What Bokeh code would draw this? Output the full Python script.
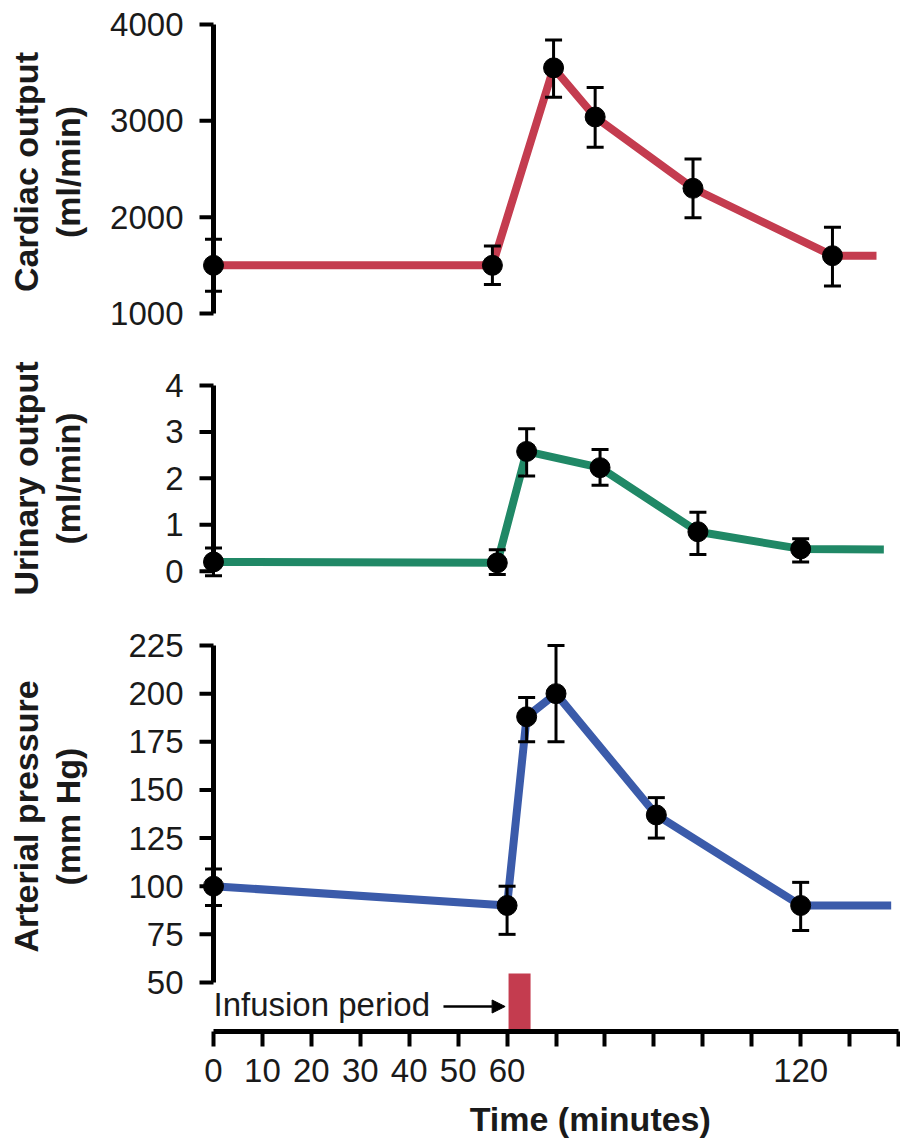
from bokeh.plotting import figure
from bokeh.layouts import column
from bokeh.models import (Range1d, FixedTicker, Whisker, TeeHead, ColumnDataSource,
                          Label, Arrow, NormalHead)
from bokeh.embed import file_html
from bokeh.resources import INLINE

# ---------------- data ----------------
time_ticks = [0, 10, 20, 30, 40, 50, 60, 70, 80, 90, 100, 110, 120, 130, 140]
time_tick_labels = ["0", "10", "20", "30", "40", "50", "60", "", "", "", "", "", "120", "", ""]

co_ticks = [1000, 2000, 3000, 4000]
co_time = [0, 57, 69.5, 78, 98, 126.5]
co_mean = [1500, 1500, 3550, 3040, 2300, 1600]
co_lower = [1230, 1300, 3245, 2725, 1995, 1285]
co_upper = [1770, 1700, 3840, 3345, 2605, 1895]
co_end_time = 135.5
co_end_value = 1600

uo_ticks = [0, 1, 2, 3, 4]
uo_time = [0, 58, 64, 79, 99, 120]
uo_mean = [0.2, 0.18, 2.58, 2.23, 0.85, 0.48]
uo_lower = [-0.1, -0.07, 2.05, 1.85, 0.36, 0.2]
uo_upper = [0.5, 0.46, 3.07, 2.62, 1.27, 0.7]
uo_end_time = 137
uo_end_value = 0.47

ap_ticks = [50, 75, 100, 125, 150, 175, 200, 225]
ap_time = [0, 60, 64, 70, 90.5, 120]
ap_mean = [100, 90, 188, 200, 137, 90]
ap_lower = [90, 75, 175, 175, 125, 77]
ap_upper = [109, 100, 198, 225, 146, 102]
ap_end_time = 138.5
ap_end_value = 90

infusion_start = 60.3
infusion_end = 64.8

# ---------------- style / layout constants ----------------
FONT = "Liberation Sans"
RED = "#C43C4F"
GREEN = "#208866"
BLUE = "#3B5BAA"
TXT = "#1a1a1a"
W = 900
LEFT = 193                # frame left edge (px)
AXIS_X = 213              # pixel position of time 0
PX_PER_MIN = 4.893
X0 = -(AXIS_X - LEFT) / PX_PER_MIN
X1 = X0 + (W - LEFT) / PX_PER_MIN
TICK_LEN = 14 / PX_PER_MIN

x_range = Range1d(X0, X1)


def make_panel(fig_top, height, frame_top, frame_bottom, lo, hi, lo_px, hi_px):
    """Figure whose frame spans [frame_top, frame_bottom] (page px) and where
    value lo sits at lo_px and value hi at hi_px."""
    upp = (hi - lo) / (lo_px - hi_px)
    y0 = lo - (frame_bottom - lo_px) * upp
    y1 = hi + (hi_px - frame_top) * upp
    p = figure(width=W, height=height, x_range=x_range, y_range=Range1d(y0, y1),
               output_backend="svg", toolbar_location=None, title=None,
               min_border_left=LEFT, min_border_right=0,
               min_border_top=frame_top - fig_top,
               min_border_bottom=fig_top + height - frame_bottom)
    p.grid.visible = False
    p.outline_line_color = None
    p.background_fill_color = "white"
    p.border_fill_color = "white"
    return p, upp


def style_yaxis(p, ticks, label, title_standoff):
    ax = p.yaxis[0]
    ax.ticker = FixedTicker(ticks=ticks)
    ax.axis_line_color = None
    ax.major_tick_line_color = None
    ax.major_tick_out = 0
    ax.major_tick_in = 0
    ax.minor_tick_line_color = None
    ax.major_label_text_font = FONT
    ax.major_label_text_font_size = "33px"
    ax.major_label_text_color = TXT
    ax.major_label_standoff = 10
    ax.axis_label = label
    ax.axis_label_text_font = FONT
    ax.axis_label_text_font_style = "bold"
    ax.axis_label_text_font_size = "34px"
    ax.axis_label_text_color = TXT
    ax.axis_label_text_line_height = 1.12
    ax.axis_label_standoff = title_standoff
    # axis spine and tick marks at time 0
    n = len(ticks)
    p.segment(x0=[0], y0=[ticks[0]], x1=[0], y1=[ticks[-1]], line_width=5, line_color="black")
    p.segment(x0=[-TICK_LEN] * n, y0=ticks, x1=[0] * n, y1=ticks, line_width=4, line_color="black")


def draw_series(p, t, m, lo, hi, end_t, end_v, color):
    p.line(t + [end_t], m + [end_v], line_width=8, line_color=color)
    src = ColumnDataSource(dict(t=t, lo=lo, hi=hi))
    wh = Whisker(base="t", lower="lo", upper="hi", source=src, dimension="height",
                 line_width=3, line_color="black", level="annotation",
                 upper_head=TeeHead(size=17, line_width=3, line_color="black"),
                 lower_head=TeeHead(size=17, line_width=3, line_color="black"))
    p.add_layout(wh)
    p.scatter(t, m, size=20, fill_color="black", line_color="black")


# panel 1: cardiac output (page y 0..340)
p1, _ = make_panel(0, 340, 14, 329, co_ticks[0], co_ticks[-1], 313, 24)
p1.xaxis.visible = False
style_yaxis(p1, co_ticks, "Cardiac output\n(ml/min)", 20)
draw_series(p1, co_time, co_mean, co_lower, co_upper, co_end_time, co_end_value, RED)

# panel 2: urinary output (page y 340..600)
p2, _ = make_panel(340, 260, 365, 591, uo_ticks[0], uo_ticks[-1], 570.7, 385)
p2.xaxis.visible = False
style_yaxis(p2, uo_ticks, "Urinary output\n(ml/min)", 75)
draw_series(p2, uo_time, uo_mean, uo_lower, uo_upper, uo_end_time, uo_end_value, GREEN)

# panel 3: arterial pressure + time axis (page y 600..1100)
p3, upp3 = make_panel(600, 500, 601, 1031, ap_ticks[0], ap_ticks[-1], 982, 645)
style_yaxis(p3, ap_ticks, "Arterial pressure\n(mm Hg)", 38)
draw_series(p3, ap_time, ap_mean, ap_lower, ap_upper, ap_end_time, ap_end_value, BLUE)

y3 = p3.y_range
BAR_TOP = ap_ticks[0] + (982 - 973) * upp3
p3.quad(left=[infusion_start], right=[infusion_end], bottom=[y3.start], top=[BAR_TOP],
        fill_color=RED, line_color=None)

ARROW_Y = ap_ticks[0] - (1006 - 982) * upp3
TEXT_Y = ap_ticks[0] - (1004 - 982) * upp3
p3.add_layout(Arrow(end=NormalHead(size=13, fill_color="black", line_color="black", line_width=1),
                    x_start=47.0, y_start=ARROW_Y, x_end=59.6, y_end=ARROW_Y,
                    line_width=2.5, line_color="black"))
p3.add_layout(Label(x=0, y=TEXT_Y, text="Infusion period", text_font=FONT,
                    text_font_size="33px", text_color=TXT, text_align="left",
                    text_baseline="middle"))

xa = p3.xaxis[0]
xa.ticker = FixedTicker(ticks=time_ticks)
xa.major_label_overrides = {t: s for t, s in zip(time_ticks, time_tick_labels)}
xa.bounds = (time_ticks[0], time_ticks[-1])
xa.axis_line_width = 5
xa.axis_line_color = "black"
xa.major_tick_line_width = 4
xa.major_tick_line_color = "black"
xa.major_tick_out = 15
xa.major_tick_in = 0
xa.minor_tick_line_color = None
xa.major_label_text_font = FONT
xa.major_label_text_font_size = "33px"
xa.major_label_text_color = TXT
xa.major_label_standoff = 12

# strip for the time-axis title (page y 1100..1140)
p4 = figure(width=W, height=40, x_range=x_range, y_range=Range1d(0, 40),
            output_backend="svg", toolbar_location=None, title=None,
            min_border_left=LEFT, min_border_right=0, min_border_top=0, min_border_bottom=0)
p4.axis.visible = False
p4.grid.visible = False
p4.outline_line_color = None
p4.add_layout(Label(x=77.0, y=22, text="Time (minutes)", text_font=FONT,
                    text_font_size="34px", text_font_style="bold", text_color=TXT,
                    text_align="center", text_baseline="middle"))

layout = column(p1, p2, p3, p4, spacing=0)
open("out.html", "w").write(file_html(layout, INLINE))
